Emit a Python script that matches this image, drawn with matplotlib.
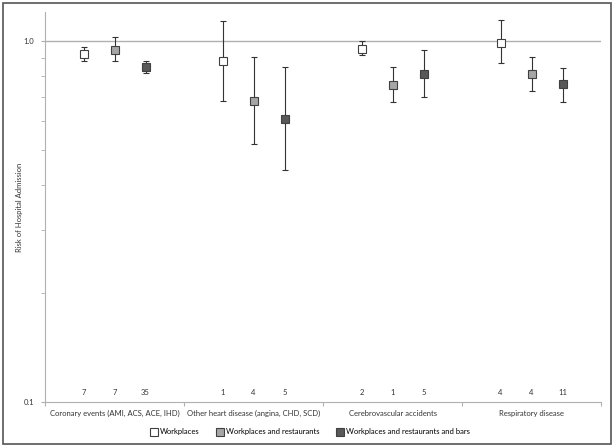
import numpy as np
import matplotlib.pyplot as plt
from matplotlib.lines import Line2D
from matplotlib.patches import Rectangle
from matplotlib.ticker import FixedLocator, NullFormatter

plt.rcParams['font.family'] = ['Lato', 'DejaVu Sans']

categories = ['Coronary events (AMI, ACS, ACE, IHD)',
              'Other heart disease (angina, CHD, SCD)',
              'Cerebrovascular accidents',
              'Respiratory disease']
series = ['Workplaces', 'Workplaces and restaurants',
          'Workplaces and restaurants and bars']
# risk estimates, lower and upper CI per series (one value per category)
est = [[0.92, 0.88, 0.95, 0.99],
       [0.944, 0.68, 0.757, 0.81],
       [0.846, 0.608, 0.81, 0.759]]
lo = [[0.878, 0.684, 0.913, 0.869],
      [0.878, 0.517, 0.676, 0.726],
      [0.814, 0.438, 0.698, 0.679]]
hi = [[0.961, 1.136, 0.998, 1.141],
      [1.024, 0.901, 0.846, 0.905],
      [0.878, 0.846, 0.942, 0.843]]
counts = [[7, 1, 2, 4],
          [7, 4, 1, 4],
          [35, 5, 5, 11]]

colors = ['white', '#a6a6a6', '#595959']
offsets = [-0.223, 0.0, 0.223]
fs = 5.5

fig = plt.figure(figsize=(6.14, 4.47), dpi=100)
ax = fig.add_axes([0.0733, 0.1007, 0.9057, 0.8723])

x = np.arange(len(categories))
for i in range(3):
    xs = x + offsets[i]
    e = np.array(est[i]); l = np.array(lo[i]); h = np.array(hi[i])
    ax.errorbar(xs, e, yerr=[e - l, h - e], fmt='none', ecolor='#333333',
                elinewidth=0.8, capsize=2.2, capthick=0.8, zorder=2)
    ax.plot(xs, e, 's', ms=5.6, mfc=colors[i], mec='#404040', mew=0.8, zorder=3)
    for xi, c in zip(xs, counts[i]):
        ax.text(xi, 0.106, str(c), ha='center', va='center', fontsize=fs, color='#333333')

ax.set_yscale('log')
ax.set_ylim(0.1, 1.203)
ax.set_xlim(-0.5, 3.5)
ax.axhline(1.0, color='#b0b0b0', lw=1.0, zorder=1)

ax.yaxis.set_major_locator(FixedLocator([0.1, 1.0]))
ax.set_yticklabels(['0.1', '1.0'])
ax.yaxis.set_minor_locator(FixedLocator([0.2, 0.3, 0.4, 0.5, 0.6, 0.7, 0.8, 0.9]))
ax.yaxis.set_minor_formatter(NullFormatter())
ax.tick_params(axis='y', which='both', length=3, color='#b0b0b0', labelsize=fs,
               labelcolor='#333333', pad=5)

ax.xaxis.set_major_locator(FixedLocator([-0.5, 0.5, 1.5, 2.5, 3.5]))
ax.xaxis.set_major_formatter(NullFormatter())
ax.xaxis.set_minor_locator(FixedLocator(x))
ax.set_xticklabels(categories, minor=True)
ax.tick_params(axis='x', which='major', length=3, color='#b0b0b0')
ax.tick_params(axis='x', which='minor', length=0, labelsize=fs, labelcolor='#333333', pad=6)

for s in ['top', 'right']:
    ax.spines[s].set_visible(False)
for s in ['left', 'bottom']:
    ax.spines[s].set_color('#b0b0b0')

ax.set_ylabel('Risk of Hospital Admission', fontsize=fs, color='#333333', labelpad=0)

handles = [Line2D([], [], ls='none', marker='s', ms=6, mfc=c, mec='#404040', mew=0.8)
           for c in colors]
fig.legend(handles, series, loc='center', bbox_to_anchor=(0.505, 0.034), ncol=3,
           frameon=False, fontsize=fs, handletextpad=0.3, columnspacing=2.2,
           handlelength=1.0)

fig.add_artist(Rectangle((0.005, 0.006), 0.99, 0.988, transform=fig.transFigure,
                         fill=False, edgecolor='#555555', lw=1.2))

fig.savefig('out.png', dpi=100)
